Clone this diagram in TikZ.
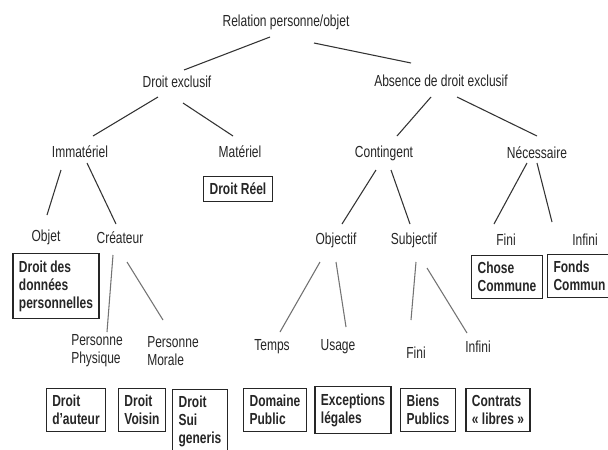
\documentclass[tikz,border=0pt]{standalone}
\usepackage{fontspec}
\setmainfont{Liberation Sans}[FakeStretch=0.75]
\usepackage{tikz}

\begin{document}
\begin{tikzpicture}
	[
	x=0.75pt, y=-0.75pt,
	every node/.style={font=\fontsize{12}{13.5}\selectfont, text=black!85},
	word/.style={inner sep=1pt, align=left},
	box/.style={draw=black!85, line width=0.8pt, align=left, inner xsep=4.5pt, inner ysep=5pt,
		font=\fontsize{12}{13.5}\selectfont\bfseries},
	link/.style={black!80, line width=0.8pt},
	linklight/.style={black!55, line width=0.8pt},
	]
		\fill[white] (0,0) rectangle (608,450);
		\clip (0,0) rectangle (608,450);

		% root and first level
		\node[word] (root) at 		(286, 22) {Relation personne/objet};
		\node[word] (excl) at 		(177, 82) {Droit exclusif};
		\node[word] (absence) at 	(441, 81) {Absence de droit exclusif};

		% second level
		\node[word] (immat) at 		( 80,152) {Immatériel};
		\node[word] (mater) at 		(240,152) {Matériel};
		\node[word] (conting) at 	(384,153) {Contingent};
		\node[word] (necess) at 	(537,153) {Nécessaire};

		% third level
		\node[word] (objet) at 		( 46,237) {Objet};
		\node[word] (createur) at 	(120,238) {Créateur};
		\node[word] (objectif) at 	(336,240) {Objectif};
		\node[word] (subjectif) at 	(414,240) {Subjectif};
		\node[word] (fini1) at 		(506,240) {Fini};
		\node[word] (infini1) at 	(585,240) {Infini};

		% fourth level
		\node[word] (physique) at 	( 97,351) {Personne\\Physique};
		\node[word] (morale) at 	(173,351) {Personne\\Morale};
		\node[word] (temps) at 		(272,347) {Temps};
		\node[word] (usage) at 		(338,347) {Usage};
		\node[word] (fini2) at 		(416,353) {Fini};
		\node[word] (infini2) at 	(478,347) {Infini};

		% boxed rights
		\node[box] (reel) at 		(238,189) {Droit Réel};
		\node[box] (donnees) at 	( 56,286) {Droit des\\données\\personnelles};
		\node[box] (chose) at 		(507,277) {Chose\\Commune};
		\node[box, anchor=north west] (fonds) at (547,254) {Fonds\\Commun};
		\node[box] (auteur) at 		( 76,410) {Droit\\d’auteur};
		\node[box] (voisin) at 		(142,410) {Droit\\Voisin};
		\node[box, anchor=north] (sui) at (200,389) {Droit\\Sui\\generis};
		\node[box] (domaine) at 	(275,410) {Domaine\\Public};
		\node[box] (exceptions) at 	(353,410) {Exceptions\\légales};
		\node[box] (biens) at 		(428,410) {Biens\\Publics};
		\node[box] (contrats) at 	(498,410) {Contrats\\« libres »};

		\foreach \a/\ax/\ay/\b/\bx/\by in {root/-16/15/excl/7/-12, root/28/21/absence/-30/-18,
			excl/-19/15/immat/13/-16, excl/6/21/mater/-7/-16,
			absence/-10/16/conting/13/-17, absence/16/16/necess/0/-17,
			immat/-19/18/objet/1/-22, immat/7/11/createur/-4/-14,
			conting/-8/17/objectif/6/-16, conting/7/17/subjectif/-4/-16,
			necess/-10/10/fini1/-12/-16, necess/0/10/infini1/-33/-18}
			\draw[link] ([shift={(\ax,\ay)}]\a.center) -- ([shift={(\bx,\by)}]\b.center);
		\foreach \a/\ax/\ay/\b/\bx/\by in {createur/-7/17/physique/10/-19, createur/7/24/morale/-10/-31,
			objectif/-16/22/temps/8/-15, objectif/0/22/usage/8/-20,
			subjectif/2/22/fini2/-5/-33, subjectif/13/28/infini2/-11/-14}
			\draw[linklight] ([shift={(\ax,\ay)}]\a.center) -- ([shift={(\bx,\by)}]\b.center);

	\end{tikzpicture}
\end{document}
